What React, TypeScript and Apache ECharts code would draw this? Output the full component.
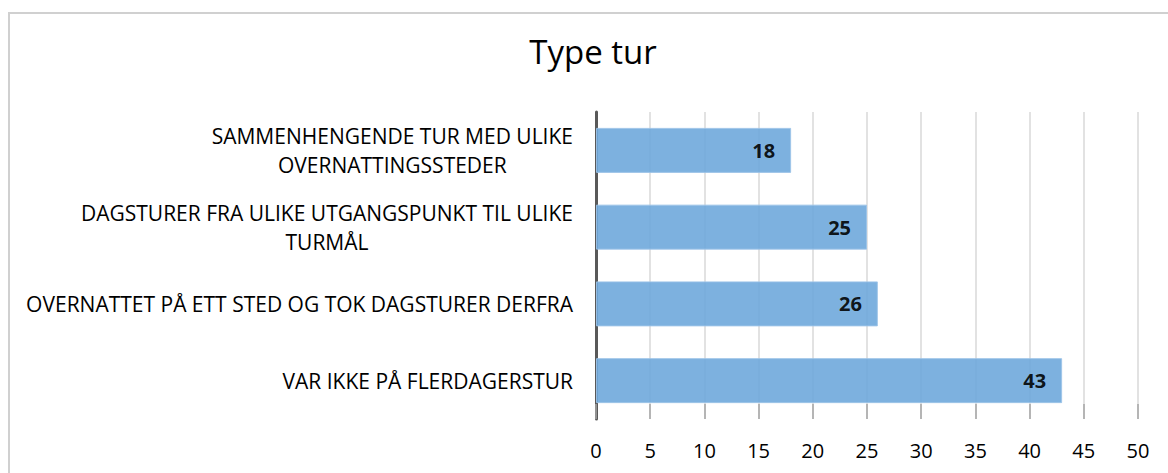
import React, { useEffect, useRef } from "react";
import * as echarts from "echarts";

const titleText = "Type tur";
const categories = [
  "SAMMENHENGENDE TUR MED ULIKE\nOVERNATTINGSSTEDER",
  "DAGSTURER FRA ULIKE UTGANGSPUNKT TIL ULIKE\nTURMÅL",
  "OVERNATTET PÅ ETT STED OG TOK DAGSTURER DERFRA",
  "VAR IKKE PÅ FLERDAGERSTUR",
];
const values = [18, 25, 26, 43];
const xMin = 0;
const xMax = 50;
const xInterval = 5;

const FONT = '"Open Sans", "Noto Sans", sans-serif';
const LABEL_SIZE = 21;

function measure(text: string, size: number): number {
  const c = document.createElement("canvas");
  const ctx = c.getContext("2d");
  if (!ctx) return text.length * size * 0.6;
  ctx.font = `${size}px "Open Sans"`;
  return ctx.measureText(text).width;
}

export default function App() {
  const ref = useRef<HTMLDivElement>(null);

  useEffect(() => {
    if (!ref.current) return;
    const chart = echarts.init(ref.current, undefined, { renderer: "svg" });

    const rich: Record<string, any> = {};
    categories.forEach((cat, i) => {
      const w = Math.max(...cat.split("\n").map((l) => measure(l, LABEL_SIZE))) + 2;
      rich["l" + i] = {
        width: w,
        align: "center",
        fontSize: LABEL_SIZE,
        fontFamily: FONT,
        color: "#000",
        lineHeight: 29,
      };
    });

    chart.setOption({
      animation: false,
      backgroundColor: "#ffffff",
      title: {
        text: titleText,
        left: 588,
        top: 30,
        textAlign: "center",
        textStyle: {
          fontFamily: FONT,
          fontSize: 33,
          fontWeight: "normal",
          color: "#000",
        },
      },
      graphic: [
        {
          type: "polyline",
          shape: {
            points: [
              [9, 1000],
              [9, 13],
              [2000, 13],
            ],
          },
          style: { fill: "none", stroke: "#d0d0d0", lineWidth: 2 },
          silent: true,
        },
      ],
      grid: { left: 596, right: 30, top: 112, bottom: 54 },
      xAxis: {
        type: "value",
        min: xMin,
        max: xMax,
        interval: xInterval,
        axisLine: { show: false },
        axisTick: {
          show: true,
          inside: true,
          length: 15,
          lineStyle: { color: "#a6a6a6", width: 1.5 },
        },
        splitLine: { show: true, lineStyle: { color: "#d9d9d9", width: 1.5 } },
        axisLabel: {
          margin: 21,
          fontFamily: FONT,
          fontSize: 20,
          color: "#000",
        },
      },
      yAxis: {
        type: "category",
        inverse: true,
        data: categories,
        axisLine: { show: true, lineStyle: { color: "#595959", width: 3 } },
        axisTick: { show: false },
        axisLabel: {
          margin: 22,
          align: "right",
          formatter: (value: string, index: number) =>
            value
              .split("\n")
              .map((l) => `{l${index}|${l}}`)
              .join("\n"),
          rich,
        },
      },
      series: [
        {
          type: "bar",
          data: values,
          barWidth: 45,
          itemStyle: {
            color: "#6fa8dc",
            opacity: 0.9,
            borderColor: "#9cc3e8",
            borderWidth: 1,
          },
          label: {
            show: true,
            position: "insideRight",
            distance: 16,
            fontFamily: FONT,
            fontSize: 20,
            fontWeight: "bold",
            color: "#000",
          },
        },
      ],
    });

    return () => chart.dispose();
  }, []);

  return (
    <div
      ref={ref}
      style={{ position: "fixed", left: 0, top: 0, width: 1168, height: 473 }}
    />
  );
}
